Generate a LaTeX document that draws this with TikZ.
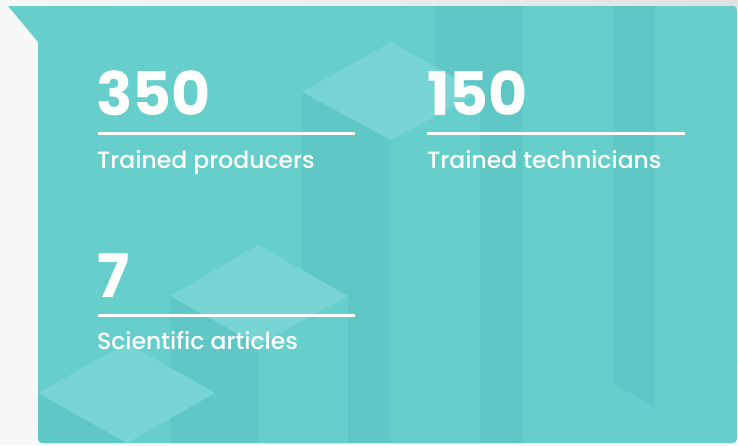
\documentclass[tikz,border=0pt]{standalone}
\usepackage{fontspec}
\setmainfont{Poppins}
\newfontfamily\capfont{Poppins Medium}
\definecolor{bgl}{HTML}{F7F9F9}
\definecolor{bgg}{HTML}{E0E2E2}
\definecolor{tealbase}{HTML}{66CFCC}
\definecolor{tealdark}{HTML}{5FC8C6}
\definecolor{teallight}{HTML}{77D5D3}
\tikzset{
  bignum/.style={inner sep=0pt, anchor=base west, text=white, font=\fontsize{60}{60}\selectfont\bfseries},
  caption/.style={inner sep=0pt, anchor=base west, text=white, font=\fontsize{23.5}{23.5}\capfont},
  rulestyle/.style={white, line width=3pt},
}
\begin{document}
\begin{tikzpicture}[x=1pt,y=-1pt]
\useasboundingbox (0,0) rectangle (738,445);
\fill[bgl] (0,0) rectangle (738,445);
\shade[left color=bgl, right color=bgg] (0,0) rectangle (738,7);
% panel
\fill[tealbase] (8,6) [rounded corners=4pt] -- (737,6) -- (737,443) -- (38,443) [sharp corners] -- (38,42) -- cycle;
\begin{scope}
\clip (8,6) [rounded corners=4pt] -- (737,6) -- (737,443) -- (38,443) [sharp corners] -- (38,42) -- cycle;
% back pillars
\fill[tealdark] (435,0) rectangle (523,445);
\fill[tealdark] (613,0) -- (655,0) -- (655,407) -- (613,383) -- cycle;
\draw[tealdark!50!tealbase, line width=0.8pt] (655,407) -- (740,359);
% pillar 1
\fill[tealdark] (302,92) -- (391,140) -- (391,445) -- (302,445) -- cycle;
\fill[tealbase] (391,140) -- (480,92) -- (480,445) -- (391,445) -- cycle;
\fill[teallight] (302,92) -- (391,42) -- (480,92) -- (391,140) -- cycle;
% pillar 4
\fill[tealdark] (170,296) -- (258,345) -- (258,445) -- (170,445) -- cycle;
\fill[tealbase] (258,345) -- (348,296) -- (348,445) -- (258,445) -- cycle;
\fill[teallight] (170,296) -- (258,245) -- (348,296) -- (258,345) -- cycle;
% pillar 5
\fill[tealdark] (38,393) -- (127,443) -- (127,450) -- (38,450) -- cycle;
\fill[teallight] (38,393) -- (127,343) -- (215,393) -- (127,443) -- cycle;
\end{scope}
% texts
\node[bignum] (n1) at (96,115) {350};
\node[bignum] (n2) at (427,115) {150};
\node[bignum] (n3) at (97,297) {7};
\coordinate (r1a) at (98,133);
\coordinate (r1b) at (355,133);
\coordinate (r2a) at (427,133);
\coordinate (r2b) at (685,133);
\coordinate (r3a) at (98,315);
\coordinate (r3b) at (355,315);
\draw[rulestyle] (r1a) -- (r1b);
\draw[rulestyle] (r2a) -- (r2b);
\draw[rulestyle] (r3a) -- (r3b);
\node[caption] (c1) at (97,168) {Trained producers};
\node[caption] (c2) at (427,168) {Trained technicians};
\node[caption] (c3) at (97,349) {Scientific articles};
\end{tikzpicture}
\end{document}
